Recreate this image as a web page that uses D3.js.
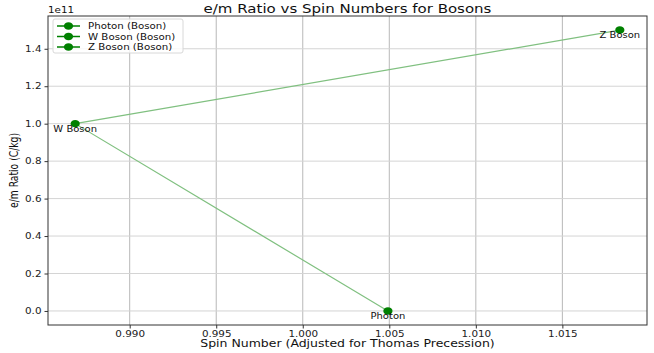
<!DOCTYPE html>
<html>
<head>
<meta charset="utf-8">
<script src="https://cdn.jsdelivr.net/npm/d3@7"></script>
<style>
  html, body { margin: 0; padding: 0; background: #fff; }
  svg { display: block; font-family: "DejaVu Sans", sans-serif; }
</style>
</head>
<body>
<div id="chart"></div>
<script>
// data
const particles = ["Photon", "W Boson", "Z Boson"];
const spinValues = [1.00492, 0.98685, 1.01832];
const emRatios = [0, 1.0e11, 1.5e11];
const xTicks = [0.990, 0.995, 1.000, 1.005, 1.010, 1.015];
const yTicks = [0, 0.2e11, 0.4e11, 0.6e11, 0.8e11, 1.0e11, 1.2e11, 1.4e11];

const width = 654, height = 353;
const margin = { top: 16, right: 7, bottom: 28, left: 48 };
const innerW = width - margin.left - margin.right;
const innerH = height - margin.top - margin.bottom;
const SX = 1.25; // the picture is stretched sideways

const svg = d3.select("#chart").append("svg")
  .attr("width", width)
  .attr("height", height);

// text stretched horizontally around its anchor
function wideText(parent, x0, y0, str, size, anchor) {
  return parent.append("g")
    .attr("transform", `translate(${x0},${y0}) scale(${SX},1)`)
    .append("text")
    .attr("text-anchor", anchor || "start")
    .attr("font-size", size)
    .attr("fill", "#111")
    .text(str);
}

const g = svg.append("g").attr("transform", `translate(${margin.left},${margin.top})`);

const x = d3.scaleLinear().domain([0.98528, 1.01989]).range([0, innerW]);
const y = d3.scaleLinear().domain([-0.075e11, 1.575e11]).range([innerH, 0]);

// grid
g.append("g").selectAll("line").data(xTicks).join("line")
  .attr("x1", d => x(d)).attr("x2", d => x(d))
  .attr("y1", 0).attr("y2", innerH)
  .attr("stroke", "#b8b8b8").attr("stroke-width", 1);
g.append("g").selectAll("line").data(yTicks).join("line")
  .attr("y1", d => y(d)).attr("y2", d => y(d))
  .attr("x1", 0).attr("x2", innerW)
  .attr("stroke", "#d4d4d4").attr("stroke-width", 1);

// axes
const xAxis = g.append("g")
  .attr("transform", `translate(0,${innerH})`)
  .call(d3.axisBottom(x).tickValues(xTicks).tickFormat(d3.format(".3f")).tickSize(3.5).tickSizeOuter(0));
const yAxis = g.append("g")
  .call(d3.axisLeft(y).tickValues(yTicks).tickFormat(d => (d / 1e11).toFixed(1)).tickSize(3.5).tickSizeOuter(0));
[xAxis, yAxis].forEach(a => {
  a.select(".domain").remove();
  a.selectAll("text").attr("font-size", 8.3).attr("font-family", "DejaVu Sans").attr("fill", "#222")
    .attr("transform", `scale(${SX},1)`);
  a.selectAll("line").attr("stroke", "#333");
});
yAxis.selectAll("text").attr("x", -6.5 / SX);

// frame
g.append("rect").attr("width", innerW).attr("height", innerH)
  .attr("fill", "none").attr("stroke", "#333").attr("stroke-width", 1);

// connecting line
const pts = particles.map((p, i) => ({ name: p, sx: spinValues[i], em: emRatios[i] }));
g.append("path")
  .datum(pts)
  .attr("d", d3.line().x(d => x(d.sx)).y(d => y(d.em)))
  .attr("fill", "none")
  .attr("stroke", "#80c080")
  .attr("stroke-width", 1.2);

// markers
g.selectAll("ellipse.pt").data(pts).join("ellipse")
  .attr("class", "pt")
  .attr("cx", d => x(d.sx)).attr("cy", d => y(d.em))
  .attr("rx", 4.6).attr("ry", 3.8)
  .attr("fill", "#008000");

// point labels
pts.forEach(d => wideText(g, x(d.sx), y(d.em) + 8, d.name, 8, "middle"));

// offset text
wideText(svg, margin.left, 13, "1e11", 8.3);

// title
wideText(svg, margin.left + innerW / 2, 13, "e/m Ratio vs Spin Numbers for Bosons", 12, "middle");

// axis labels
wideText(svg, margin.left + innerW / 2, 347, "Spin Number (Adjusted for Thomas Precession)", 10, "middle");
svg.append("text")
  .attr("transform", `translate(18,${margin.top + innerH / 2}) rotate(-90) scale(1,${SX})`)
  .attr("text-anchor", "middle")
  .attr("font-size", 9.2)
  .attr("fill", "#111")
  .text("e/m Ratio (C/kg)");

// legend
const legend = g.append("g").attr("transform", "translate(5,3)");
legend.append("rect")
  .attr("width", 130).attr("height", 34).attr("rx", 2)
  .attr("fill", "#fff").attr("fill-opacity", 0.8)
  .attr("stroke", "#d8d8d8");
const rows = legend.selectAll("g.row").data(particles).join("g")
  .attr("class", "row")
  .attr("transform", (d, i) => `translate(0,${7 + i * 10.5})`);
rows.append("line").attr("x1", 4).attr("x2", 27).attr("stroke", "#008000").attr("stroke-width", 1.5);
rows.append("ellipse").attr("cx", 15.5).attr("rx", 4.6).attr("ry", 3.8).attr("fill", "#008000");
rows.each(function(d) { wideText(d3.select(this), 35, 3, `${d} (Boson)`, 8.2); });
</script>
</body>
</html>
